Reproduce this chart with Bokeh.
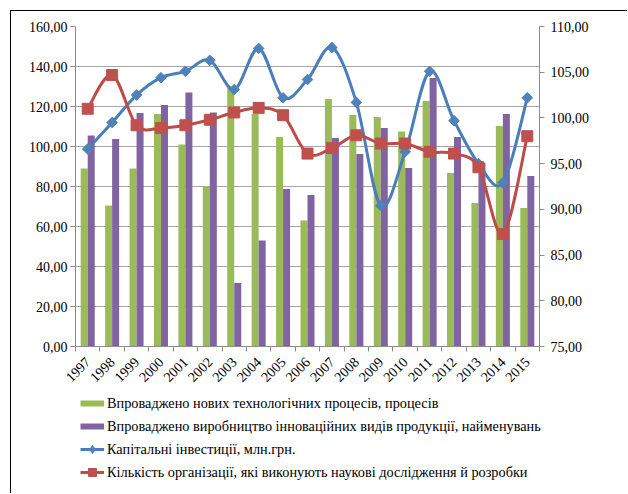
from math import pi
from bokeh.plotting import figure
from bokeh.layouts import column
from bokeh.models import (ColumnDataSource, Range1d, LinearAxis, FixedTicker,
                          Legend, LegendItem, Grid)
from bokeh.transform import dodge
from bokeh.embed import file_html
from bokeh.resources import INLINE

# ---------------- data ----------------
years = ["1997", "1998", "1999", "2000", "2001", "2002", "2003", "2004", "2005", "2006",
         "2007", "2008", "2009", "2010", "2011", "2012", "2013", "2014", "2015"]
new_processes = [89.0, 70.5, 89.0, 116.3, 101.0, 80.0, 130.0, 116.3, 104.7, 63.0,
                 123.8, 115.8, 114.7, 107.5, 122.7, 86.8, 71.7, 110.3, 69.3]
innov_products = [105.5, 103.8, 116.8, 120.8, 127.0, 117.0, 31.8, 53.0, 78.8, 75.8,
                  104.3, 96.3, 109.3, 89.3, 134.3, 104.7, 91.7, 116.3, 85.3]
cap_invest = [96.6, 99.5, 102.5, 104.4, 105.1, 106.3, 103.1, 107.6, 102.2, 104.2,
              107.7, 101.7, 90.4, 96.3, 105.1, 99.7, 95.0, 92.9, 102.2]
organizations = [101.0, 104.7, 99.2, 98.9, 99.2, 99.8, 100.6, 101.1, 100.3, 96.1,
                 96.7, 98.1, 97.2, 97.2, 96.3, 96.1, 94.6, 87.3, 98.0]
left_ticks = [0, 20, 40, 60, 80, 100, 120, 140, 160]
right_ticks = [75, 80, 85, 90, 95, 100, 105, 110]
labels = ["Впроваджено нових технологічних процесів, процесів",
          "Впроваджено виробництво інноваційних видів продукції, найменувань",
          "Капітальні інвестиції, млн.грн.",
          "Кількість організації, які виконують наукові дослідження й розробки"]

GREEN = "#9BBB59"
PURPLE = "#8064A2"
BLUE = "#4A7EBB"
RED = "#BE4B48"
BLUE_M = "#4F81BD"
RED_M = "#C0504D"
GRID = "#A6A6A6"
AXIS = "#8C8C8C"
FONT = "Liberation Serif"
NAN = float("nan")

idx = list(range(len(years)))
src = ColumnDataSource(dict(x=idx, a=new_processes, b=innov_products,
                            c=cap_invest, d=organizations))

# ---------------- main chart ----------------
p = figure(width=617, height=381, output_backend="svg", toolbar_location=None,
           x_range=Range1d(-0.5, len(years) - 0.5), y_range=Range1d(0, 160),
           min_border_left=64, min_border_right=89, min_border_top=15,
           min_border_bottom=46, x_axis_type=None, y_axis_type=None)
p.frame_align = False
p.styles = {"margin-left": "10px", "margin-top": "10px",
            "border-top": "1px solid black", "border-left": "1px solid black"}
p.outline_line_color = None
p.background_fill_color = "white"
p.border_fill_color = "white"
p.extra_y_ranges = {"right": Range1d(75, 110)}

bw = 0.287
p.vbar(x=dodge("x", -bw / 2, range=p.x_range), top="a", width=bw, bottom=0,
       source=src, fill_color=GREEN, line_color=None)
p.vbar(x=dodge("x", bw / 2, range=p.x_range), top="b", width=bw, bottom=0,
       source=src, fill_color=PURPLE, line_color=None)


def smooth(xs, ys):
    n = len(xs)
    out = dict(x0=[], y0=[], x1=[], y1=[], cx0=[], cy0=[], cx1=[], cy1=[])
    for i in range(n - 1):
        pm = max(i - 1, 0)
        pp = min(i + 2, n - 1)
        out["x0"].append(xs[i]); out["y0"].append(ys[i])
        out["x1"].append(xs[i + 1]); out["y1"].append(ys[i + 1])
        out["cx0"].append(xs[i] + (xs[i + 1] - xs[pm]) / 6)
        out["cy0"].append(ys[i] + (ys[i + 1] - ys[pm]) / 6)
        out["cx1"].append(xs[i + 1] - (xs[pp] - xs[i]) / 6)
        out["cy1"].append(ys[i + 1] - (ys[pp] - ys[i]) / 6)
    return ColumnDataSource(out)


p.bezier(x0="x0", y0="y0", x1="x1", y1="y1", cx0="cx0", cy0="cy0", cx1="cx1", cy1="cy1",
         source=smooth(idx, cap_invest), line_color=BLUE, line_width=3, y_range_name="right")
p.bezier(x0="x0", y0="y0", x1="x1", y1="y1", cx0="cx0", cy0="cy0", cx1="cx1", cy1="cy1",
         source=smooth(idx, organizations), line_color=RED, line_width=3, y_range_name="right")
p.scatter(x="x", y="c", source=src, marker="square", angle=pi / 4, size=7.5,
          fill_color=BLUE_M, line_color=BLUE_M, y_range_name="right")
p.scatter(x="x", y="d", source=src, marker="square", size=11,
          fill_color=RED_M, line_color=RED_M, y_range_name="right")

left = LinearAxis(ticker=FixedTicker(ticks=left_ticks))
left.major_label_overrides = {t: f"{t:.2f}".replace(".", ",") for t in left_ticks}
right = LinearAxis(y_range_name="right", ticker=FixedTicker(ticks=right_ticks))
right.major_label_overrides = {t: f"{t:.2f}".replace(".", ",") for t in right_ticks}
bottom = LinearAxis(ticker=FixedTicker(ticks=idx, minor_ticks=[i - 0.5 for i in range(len(years) + 1)]))
bottom.major_label_overrides = {i: y for i, y in zip(idx, years)}
bottom.major_label_orientation = pi / 4
bottom.major_tick_line_color = None
bottom.minor_tick_line_color = AXIS
bottom.minor_tick_out = 5
bottom.minor_tick_in = 0
bottom.major_label_standoff = 7
for ax in (left, right, bottom):
    ax.axis_line_color = AXIS
    ax.major_label_text_font = FONT
    ax.major_label_text_font_size = "14px"
    ax.major_label_text_color = "black"
for ax in (left, right):
    ax.major_tick_line_color = AXIS
    ax.major_tick_out = 5
    ax.major_tick_in = 0
    ax.minor_tick_line_color = None
left.major_label_standoff = 3
right.major_label_standoff = 6
p.add_layout(left, "left")
p.add_layout(right, "right")
p.add_layout(bottom, "below")
p.add_layout(Grid(dimension=1, ticker=left.ticker, grid_line_color=GRID, grid_line_width=1))

# ---------------- legend panel ----------------
q = figure(width=617, height=102, output_backend="svg", toolbar_location=None,
           x_range=Range1d(0, 1), y_range=Range1d(0, 1),
           min_border_left=0, min_border_right=0, min_border_top=0, min_border_bottom=0,
           x_axis_type=None, y_axis_type=None)
q.frame_align = False
q.styles = {"margin-left": "10px", "border-left": "1px solid black"}
q.outline_line_color = None
q.background_fill_color = "white"
q.border_fill_color = "white"

g_leg = q.line(x=[NAN], y=[NAN], line_color=GREEN, line_width=6)
v_leg = q.line(x=[NAN], y=[NAN], line_color=PURPLE, line_width=6)
b_leg = q.line(x=[NAN], y=[NAN], line_color=BLUE, line_width=3)
b_mk = q.scatter(x=[NAN], y=[NAN], marker="diamond", size=9,
                 fill_color=BLUE_M, line_color=BLUE_M)
r_leg = q.line(x=[NAN], y=[NAN], line_color=RED, line_width=3)
r_mk = q.scatter(x=[NAN], y=[NAN], marker="square", size=8,
                 fill_color=RED_M, line_color=RED_M)

legend = Legend(items=[LegendItem(label=labels[0], renderers=[g_leg]),
                       LegendItem(label=labels[1], renderers=[v_leg]),
                       LegendItem(label=labels[2], renderers=[b_leg, b_mk]),
                       LegendItem(label=labels[3], renderers=[r_leg, r_mk])],
                location=(69, 11), orientation="vertical")
legend.label_text_font = FONT
legend.label_text_font_size = "14.3px"
legend.label_text_color = "black"
legend.glyph_width = 24
legend.glyph_height = 20
legend.label_height = 20
legend.spacing = 3
legend.padding = 0
legend.margin = 0
legend.label_standoff = 3
legend.border_line_color = None
legend.background_fill_alpha = 0
q.add_layout(legend, "center")

layout = column(p, q, spacing=0)
open("out.html", "w").write(file_html(layout, INLINE))
